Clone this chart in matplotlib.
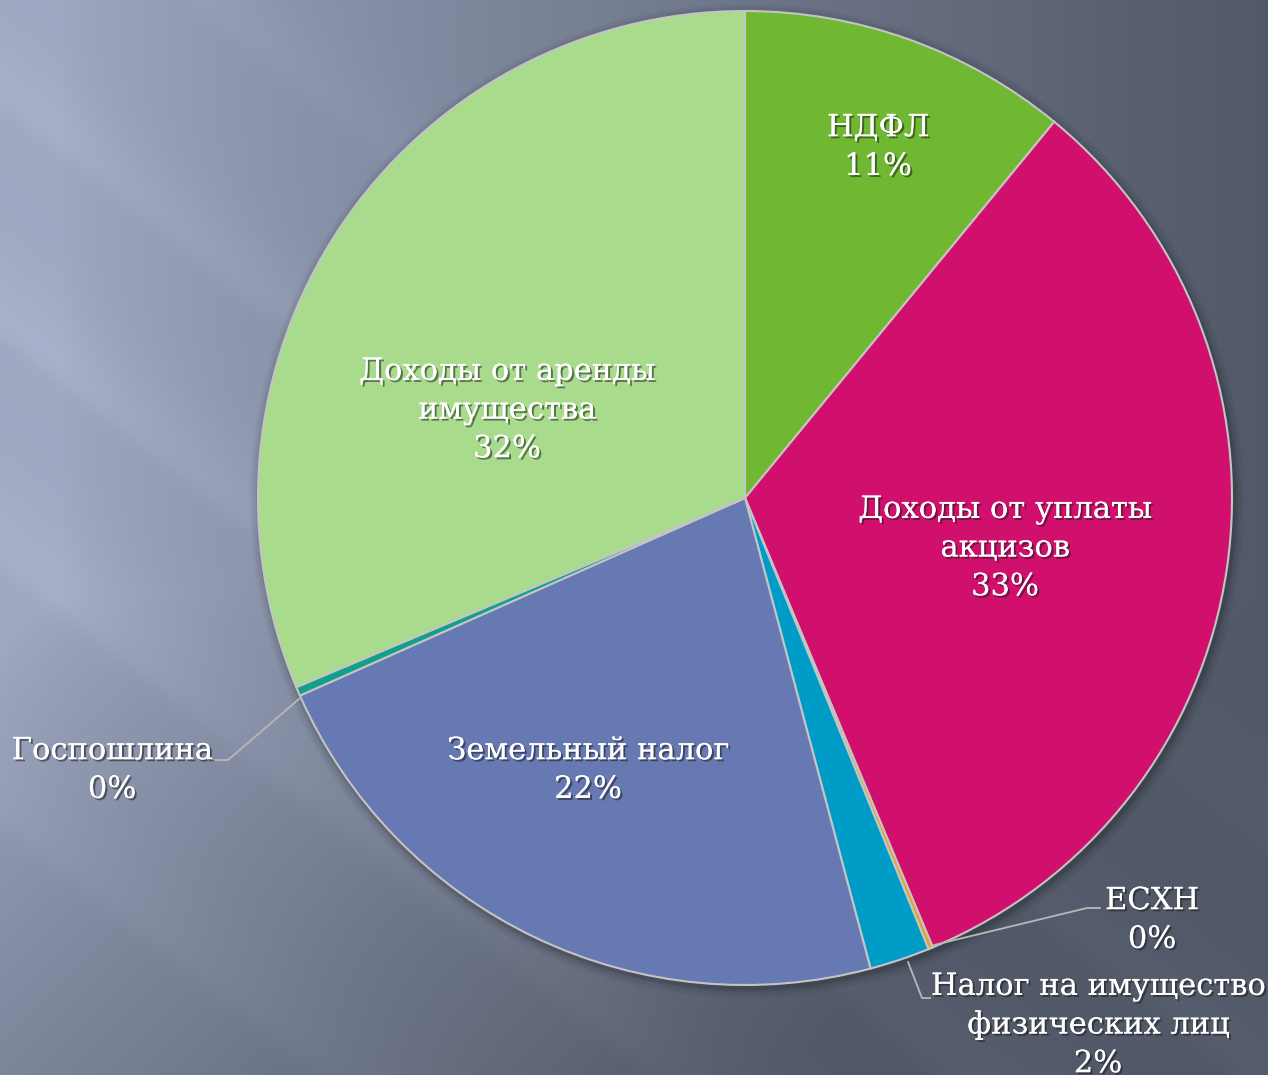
import matplotlib.pyplot as plt
import matplotlib.patheffects as pe
from matplotlib.patches import Circle
import numpy as np

# Data (shares in %, clockwise from 12 o'clock)
names = ["НДФЛ", "Доходы от уплаты\nакцизов", "ЕСХН", "Налог на имущество\nфизических лиц",
         "Земельный налог", "Госпошлина", "Доходы от аренды\nимущества"]
shares = [10.95, 32.75, 0.15, 2.0, 22.5, 0.3, 31.35]
pct_labels = ["11%", "33%", "0%", "2%", "22%", "0%", "32%"]
colors = ["#70B832", "#D0106C", "#E8A020", "#009CC8", "#6679B2", "#13A08A", "#A8DC8C"]

W, H = 1268, 1075
fig = plt.figure(figsize=(W / 100, H / 100), dpi=100)
ax = fig.add_axes([0, 0, 1, 1])
ax.set_xlim(0, W)
ax.set_ylim(0, H)
ax.axis("off")

# background: slate gradient with soft diagonal streaks
yy, xx = np.mgrid[0:H, 0:W].astype(float)
t = np.clip(xx / W * 1.05 + np.clip(yy / H - 0.55, 0, None) * 0.9 - 0.05, 0, 1) ** 0.8
light = np.array([0.62, 0.66, 0.76])
dark = np.array([0.32, 0.35, 0.41])
img = light[None, None, :] * (1 - t[..., None]) + dark[None, None, :] * t[..., None]
# diagonal streaks (top-left -> bottom-right)
d = yy - 0.78 * xx
for c, amp, w in [(100, 0.03, 70), (330, 0.035, 80), (560, 0.03, 90), (820, 0.025, 100), (-150, 0.02, 70)]:
    edge = 1 / (1 + np.exp((d - c - 5) / 6))
    band = np.exp(-((d - c) / w) ** 2) * edge
    img += amp * band[..., None] * (1 - 0.5 * t[..., None])
img = np.clip(img, 0, 1)
ax.imshow(img, extent=(0, W, 0, H), origin="upper", zorder=0, aspect="auto")

cx, cy, r = 745, H - 498, 487

# soft shadow around the pie
for k, a in [(10, 0.04), (7, 0.05), (4, 0.07), (2, 0.09)]:
    ax.add_patch(Circle((cx + 2, cy - 3), r + k, color="black", alpha=a, lw=0, zorder=1))

wedges, _ = ax.pie(shares, colors=colors, startangle=90, counterclock=False,
                   center=(cx, cy), radius=r, frame=True,
                   wedgeprops=dict(edgecolor="#C4C4C4", linewidth=1.5))
for w in wedges:
    w.set_zorder(2)
ax.set_xlim(0, W)
ax.set_ylim(0, H)
ax.set_aspect("equal")
ax.axis("off")

# label positions in pixels (x, y from top)
label_pos = [(878, 147), (1005, 548), (1152, 920), (1098, 1025),
             (588, 770), (112, 770), (507, 410)]
shadow = [pe.withSimplePatchShadow(offset=(1.5, -1.5), shadow_rgbFace="#1a1a1a", alpha=0.55), pe.Normal()]
for name, pct, (px, py) in zip(names, pct_labels, label_pos):
    ax.text(px, H - py, name + "\n" + pct, ha="center", va="center", color="white",
            fontsize=22, family="DejaVu Serif", linespacing=1.32,
            path_effects=shadow, zorder=5)

# leader lines for small slices
lc = "#B8B8B8"
ax.plot([934, 1087, 1100], [H - 945, H - 908, H - 908], color=lc, lw=1.3, zorder=4)
ax.plot([908, 922, 930], [H - 962, H - 998, H - 998], color=lc, lw=1.3, zorder=4)
ax.plot([299, 228, 213], [H - 699, H - 760, H - 760], color=lc, lw=1.3, zorder=4)

fig.savefig("out.png", dpi=100)
